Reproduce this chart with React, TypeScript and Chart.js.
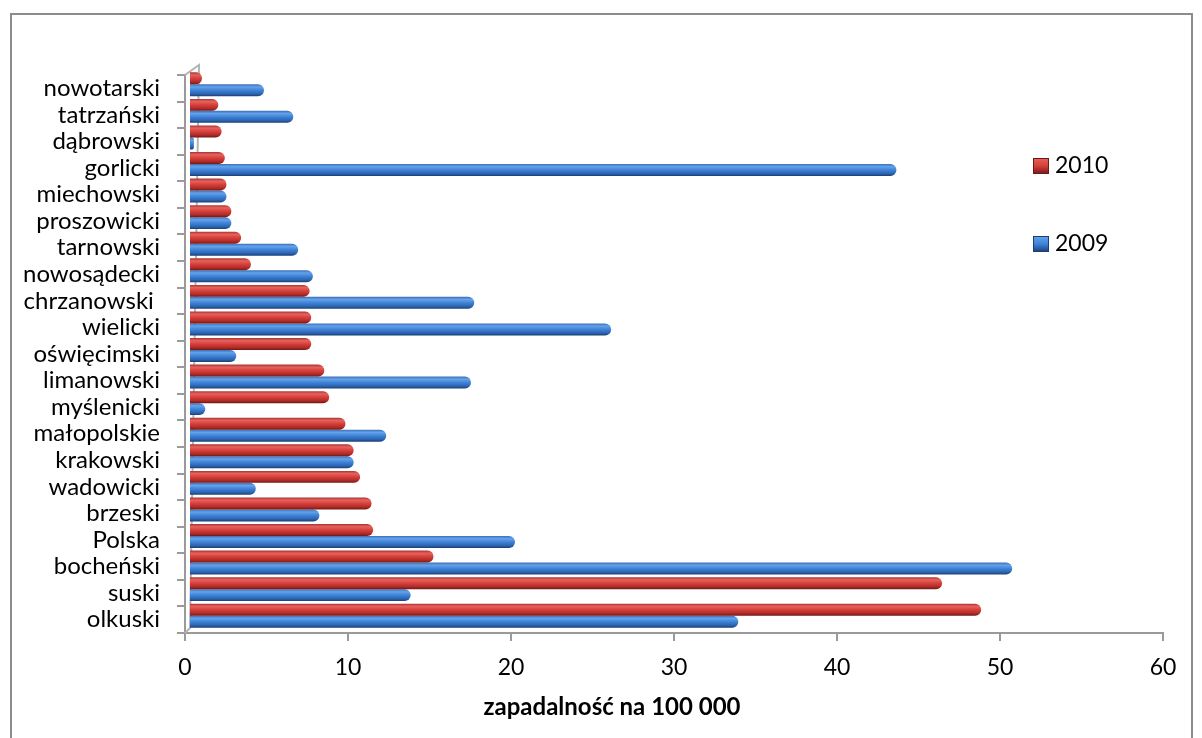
import React, { useEffect, useRef } from 'react';
import { Chart, registerables } from 'chart.js';

Chart.register(...registerables);

const categories = [
  'nowotarski', 'tatrzański', 'dąbrowski', 'gorlicki', 'miechowski', 'proszowicki',
  'tarnowski', 'nowosądecki', 'chrzanowski ', 'wielicki', 'oświęcimski', 'limanowski',
  'myślenicki', 'małopolskie', 'krakowski', 'wadowicki', 'brzeski', 'Polska',
  'bocheński', 'suski', 'olkuski',
];

const values2010 = [0.8, 1.8, 2.0, 2.2, 2.3, 2.6, 3.2, 3.8, 7.4, 7.5, 7.5, 8.3, 8.6, 9.6, 10.1, 10.5, 11.2, 11.3, 15.0, 46.2, 48.6];
const values2009 = [4.6, 6.4, 0.3, 43.4, 2.3, 2.6, 6.7, 7.6, 17.5, 25.9, 2.9, 17.3, 1.0, 12.1, 10.1, 4.1, 8.0, 20.0, 50.5, 13.6, 33.7];

const seriesLabels = ['2010', '2009'];
const xTickMin = 0;
const xTickMax = 60;
const xTickStep = 10;
const xTitle = 'zapadalność na 100 000';

const CATEGORY_PCT = 0.9;
const FONT = 'Lato, "Open Sans", sans-serif';

const redStops: [number, string][] = [
  [0, '#a93431'], [0.22, '#e6625d'], [0.5, '#d6403b'], [0.8, '#b02b27'], [1, '#6e1916'],
];
const blueStops: [number, string][] = [
  [0, '#3a6fb8'], [0.22, '#64a2ea'], [0.5, '#3f83d8'], [0.8, '#2c64b1'], [1, '#1a3f74'],
];

function barGradient(ctx: any, stops: [number, string][]) {
  const chart = ctx.chart;
  const yScale = chart.scales && chart.scales.y;
  const area = chart.chartArea;
  if (!yScale || !area || ctx.dataIndex === undefined) return stops[2][1];
  const band = (area.bottom - area.top) / categories.length;
  const center = yScale.getPixelForValue(ctx.dataIndex);
  const barH = (band * CATEGORY_PCT) / 2;
  const top = center - (band * CATEGORY_PCT) / 2 + ctx.datasetIndex * barH;
  const g = chart.ctx.createLinearGradient(0, top, 0, top + barH);
  stops.forEach(([o, c]) => g.addColorStop(o, c));
  return g;
}

const DEPTH_X = 4;
const DEPTH_Y = -4;

const depthPlugin = {
  id: 'depth3d',
  beforeDatasetsDraw(chart: any) {
    const { ctx, chartArea: a } = chart;
    ctx.save();
    ctx.strokeStyle = '#b4b4b4';
    ctx.lineWidth = 2;
    ctx.beginPath();
    ctx.moveTo(a.left, a.bottom);
    ctx.lineTo(a.left + 5, a.bottom - 5);
    ctx.lineTo(a.left + 14, a.top - 10);
    ctx.lineTo(a.left, a.top);
    ctx.stroke();
    ctx.restore();
    ctx.save();
    ctx.translate(DEPTH_X, DEPTH_Y);
  },
  afterDatasetsDraw(chart: any) {
    chart.ctx.restore();
  },
};

const TITLE_X = 612;
const TITLE_Y = 707;

const overlayPlugin = {
  id: 'overlay',
  afterDraw(chart: any) {
    const { ctx } = chart;
    ctx.save();
    // axis title
    ctx.fillStyle = '#000';
    ctx.font = `bold 24px ${FONT}`;
    ctx.textAlign = 'center';
    ctx.textBaseline = 'middle';
    ctx.fillText(xTitle, TITLE_X, TITLE_Y);

    // legend
    const items = [
      { label: seriesLabels[0], stops: redStops, y: 166 },
      { label: seriesLabels[1], stops: blueStops, y: 244 },
    ];
    items.forEach((it) => {
      const x = 1033;
      const s = 16;
      const top = it.y - 8;
      const g = ctx.createLinearGradient(0, top, 0, top + s);
      g.addColorStop(0, it.stops[1][1]);
      g.addColorStop(0.5, it.stops[2][1]);
      g.addColorStop(1, it.stops[4][1]);
      ctx.fillStyle = g;
      ctx.fillRect(x, top, s, s);
      ctx.strokeStyle = it.stops[4][1];
      ctx.lineWidth = 1;
      ctx.strokeRect(x + 0.5, top + 0.5, s - 1, s - 1);
      ctx.fillStyle = '#000';
      ctx.font = `23px ${FONT}`;
      ctx.textBaseline = 'middle';
      ctx.textAlign = 'left';
      ctx.fillText(it.label, x + 22, it.y);
    });
    ctx.restore();
  },
};

export default function App() {
  const canvasRef = useRef<HTMLCanvasElement | null>(null);

  useEffect(() => {
    if (!canvasRef.current) return;
    const chart = new Chart(canvasRef.current, {
      type: 'bar',
      data: {
        labels: categories,
        datasets: [
          {
            label: seriesLabels[0],
            data: values2010,
            backgroundColor: (ctx: any) => barGradient(ctx, redStops),
            borderRadius: 6,
            borderSkipped: 'start',
            categoryPercentage: CATEGORY_PCT,
            barPercentage: 1,
          },
          {
            label: seriesLabels[1],
            data: values2009,
            backgroundColor: (ctx: any) => barGradient(ctx, blueStops),
            borderRadius: 6,
            borderSkipped: 'start',
            categoryPercentage: CATEGORY_PCT,
            barPercentage: 1,
          },
        ],
      },
      options: {
        indexAxis: 'y',
        responsive: false,
        animation: false,
        devicePixelRatio: 1,
        layout: { padding: { left: 0, top: 75, right: 39, bottom: 0 } },
        plugins: {
          legend: { display: false },
          tooltip: { enabled: false },
          title: { display: false },
        },
        scales: {
          x: {
            min: xTickMin,
            max: xTickMax,
            ticks: {
              stepSize: xTickStep,
              color: '#000',
              padding: 13,
              font: { family: FONT, size: 23 },
            },
            grid: {
              drawOnChartArea: false,
              drawTicks: true,
              tickLength: 8,
              color: '#9a9a9a',
              lineWidth: 2,
            },
            border: { display: true, color: '#9a9a9a', width: 2 },
            title: { display: false },
            afterFit: (scale: any) => {
              scale.height = 105;
            },
          },
          y: {
            ticks: {
              color: '#000',
              padding: 17,
              autoSkip: false,
              font: { family: FONT, size: 24 },
            },
            grid: {
              drawOnChartArea: false,
              drawTicks: true,
              tickLength: 8,
              color: '#9a9a9a',
              lineWidth: 2,
            },
            border: { display: true, color: '#9a9a9a', width: 2 },
            afterFit: (scale: any) => {
              scale.width = 185;
            },
          },
        },
      },
      plugins: [depthPlugin, overlayPlugin],
    } as any);
    return () => chart.destroy();
  }, []);

  return (
    <div style={{ position: 'absolute', left: 0, top: 0, width: 1202, height: 738, background: '#fff', overflow: 'hidden' }}>
      <canvas ref={canvasRef} width={1202} height={738} style={{ width: 1202, height: 738, display: 'block' }} />
      <div
        style={{
          position: 'absolute',
          left: 10,
          top: 13,
          width: 1183,
          height: 740,
          border: '2px solid #8c8c8c',
          boxSizing: 'border-box',
          pointerEvents: 'none',
        }}
      />
    </div>
  );
}
